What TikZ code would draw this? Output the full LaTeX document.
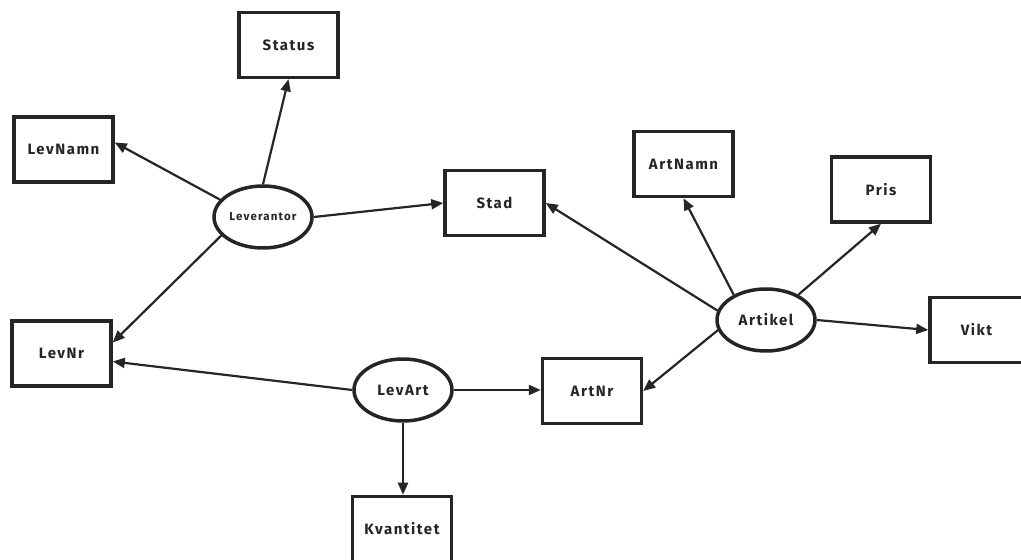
\documentclass[tikz,border=0pt]{standalone}
\usepackage{fontspec}
\setmainfont{Fira Sans}[LetterSpace=10]
\usetikzlibrary{shapes.geometric,arrows.meta}
\definecolor{ink}{HTML}{252525}
\begin{document}
\begin{tikzpicture}[x=1pt,y=1pt,
  attr/.style={draw=ink,line width=3.5pt,minimum width=99pt,minimum height=65pt,
    inner sep=0pt,text=ink,font=\bfseries\fontsize{15}{17}\selectfont},
  ent/.style={ellipse,draw=ink,line width=3.5pt,minimum width=98pt,minimum height=62pt,
    inner sep=0pt,text=ink,font=\bfseries\fontsize{15}{17}\selectfont},
  link/.style={draw=ink,line width=2.2pt,-{Triangle[length=12pt,width=10pt]}},
]
\useasboundingbox (0,0) rectangle (1021,560);
\fill[white] (0,0) rectangle (1021,560);

% attribute boxes
\node[attr] (status)  at (288.5,515)   {Status};
\node[attr] (levnamn) at (63.5,410.5)  {LevNamn};
\node[attr] (stad)    at (494.5,357)   {Stad};
\node[attr] (artnamn) at (683.5,396)   {ArtNamn};
\node[attr] (pris)    at (881,370.5)   {Pris};
\node[attr,minimum width=93pt] (vikt) at (976.5,230) {Vikt};
\node[attr] (levnr)   at (61.5,206.5)  {LevNr};
\node[attr] (artnr)   at (592,169)     {ArtNr};
\node[attr] (kvant)   at (402,31)      {Kvantitet};

% entities
\node[ent,font=\bfseries\fontsize{11.5}{13}\selectfont] (lev) at (263,343) {Leverantor};
\node[ent] (art)    at (766,240) {Artikel};
\node[ent] (levart) at (403,170) {LevArt};

% Leverantor
\draw[link] (lev.north) -- (status.south);
\draw[link] (lev.158) -- ([yshift=7pt]levnamn.east);
\draw[link] (lev.east) -- (stad.west);
\draw[link] (lev.204) -- ([yshift=11pt]levnr.east);

% LevArt
\draw[link] (levart.west) -- ([yshift=-8pt]levnr.east);
\draw[link] (levart.east) -- (levart.east -| artnr.west);
\draw[link] (levart.south) -- (levart.south |- kvant.north);

% Artikel
\draw[link] (art.169) -- (stad.east);
\draw[link] (art.142) -- (artnamn.south);
\draw[link] (art.38) -- (pris.south);
\draw[link] (art.east) -- (vikt.west);
\draw[link] (art.192) -- (artnr.east);
\end{tikzpicture}
\end{document}
